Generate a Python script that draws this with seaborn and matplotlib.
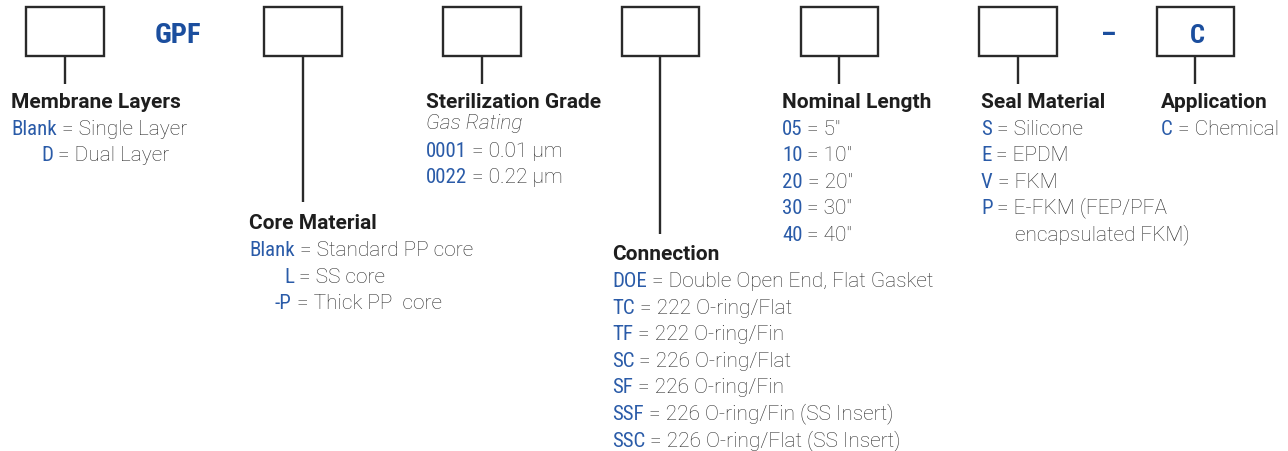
import matplotlib
matplotlib.use("Agg")
import matplotlib.pyplot as plt
from matplotlib.patches import Rectangle
import seaborn as sns

# ---------------- data ----------------
prefix_text = "GPF"
separator_text = "–"
fixed_box_text = "C"

membrane_title = "Membrane Layers"
membrane_codes = ["Blank", "D"]
membrane_desc = ["Single Layer", "Dual Layer"]

core_title = "Core Material"
core_codes = ["Blank", "L", "-P"]
core_desc = ["Standard PP core", "SS core", "Thick PP  core"]

steril_title = "Sterilization Grade"
steril_subtitle = "Gas Rating"
steril_codes = ["0001", "0022"]
steril_desc = ["0.01 µm", "0.22 µm"]

conn_title = "Connection"
conn_codes = ["DOE", "TC", "TF", "SC", "SF", "SSF", "SSC"]
conn_desc = ["Double Open End, Flat Gasket", "222 O-ring/Flat", "222 O-ring/Fin",
             "226 O-ring/Flat", "226 O-ring/Fin", "226 O-ring/Fin (SS Insert)",
             "226 O-ring/Flat (SS Insert)"]

length_title = "Nominal Length"
length_codes = ["05", "10", "20", "30", "40"]
length_desc = ['5"', '10"', '20"', '30"', '40"']

seal_title = "Seal Material"
seal_codes = ["S", "E", "V", "P", ""]
seal_desc = ["Silicone", "EPDM", "FKM", "E-FKM (FEP/PFA", "encapsulated FKM)"]

app_title = "Application"
app_codes = ["C"]
app_desc = ["Chemical"]

# ---------------- style ----------------
sns.set_theme(style="white")
plt.rcParams['font.family'] = ['Roboto', 'DejaVu Sans']

BLUE = "#2A5BA8"
DARK_BLUE = "#1B4E9E"
HEAD = "#1e1e1e"
DESC = "#2c2c2c"
LINE = "#2a2a2a"
FS = 15
CODE_FONT = ['Roboto Condensed', 'Roboto', 'DejaVu Sans']

fig = plt.figure(figsize=(12.88, 4.52), dpi=100)
ax = fig.add_axes([0, 0, 1, 1])
ax.set_xlim(0, 1288)
ax.set_ylim(452, 0)
ax.axis("off")

# boxes: (left, right, connector bottom)
box_top, box_bot = 8, 57
boxes = [(26, 104, 85), (264, 342, 203), (443, 521, 85), (622, 699, 235),
         (801, 878, 85), (979, 1057, 85), (1157, 1234, 85)]
for l, r, lb in boxes:
    ax.add_patch(Rectangle((l, box_top), r - l, box_bot - box_top, fill=False,
                           edgecolor=LINE, lw=1.7, zorder=3))
    cx = (l + r) / 2
    ax.plot([cx, cx], [box_bot, lb], color=LINE, lw=1.7, solid_capstyle="butt")

ax.text(177.5, 43, prefix_text, color=DARK_BLUE, fontsize=20.5, fontweight="bold",
        ha="center", va="baseline", family=CODE_FONT, fontstretch="condensed")
ax.text(1109, 43, separator_text, color=DARK_BLUE, fontsize=20, fontweight="bold",
        ha="center", va="baseline", family=CODE_FONT)
ax.text(1197, 43, fixed_box_text, color=DARK_BLUE, fontsize=19, fontweight="bold",
        ha="center", va="baseline", family=CODE_FONT, fontstretch="condensed")


def entry(x, y, code, desc):
    if code:
        t = ax.text(x, y, code, color=BLUE, fontsize=FS, fontweight="normal",
                    family=CODE_FONT, fontstretch="condensed", va="baseline", ha="left")
        ax.annotate(" = " + desc, xy=(1, 0), xycoords=t, va="bottom", ha="left",
                    color=DESC, fontsize=FS, fontweight="light")
    else:
        ax.text(x, y, desc, color=DESC, fontsize=FS, fontweight="light",
                va="baseline", ha="left")


def block(x, y0, title, codes, descs, code_x=None, step=26.4, sub=None, first_gap=27.5):
    ax.text(x, y0, title, color=HEAD, fontsize=FS, fontweight="bold",
            va="baseline", ha="left")
    y = y0 + first_gap
    if sub:
        ax.text(x, y0 + 21.5, sub, color=DESC, fontsize=FS, style="italic",
                fontweight="light", va="baseline", ha="left")
        y = y0 + 49.5
    for i, (c, d) in enumerate(zip(codes, descs)):
        cx = code_x[i] if code_x else x
        entry(cx, y + i * step, c, d)


block(11, 107.5, membrane_title, membrane_codes, membrane_desc, code_x=[11, 41])
block(249, 229, core_title, core_codes, core_desc, code_x=[249, 284, 275])
block(426, 107.5, steril_title, steril_codes, steril_desc, sub=steril_subtitle, step=26)
block(612, 260, conn_title, conn_codes, conn_desc, step=26.6, first_gap=27)
block(782, 107.5, length_title, length_codes, length_desc)
block(981, 107.5, seal_title, seal_codes, seal_desc, code_x=[981, 981, 981, 981, 1015])
block(1161, 107.5, app_title, app_codes, app_desc)

fig.savefig("out.png", dpi=100, facecolor="white")
